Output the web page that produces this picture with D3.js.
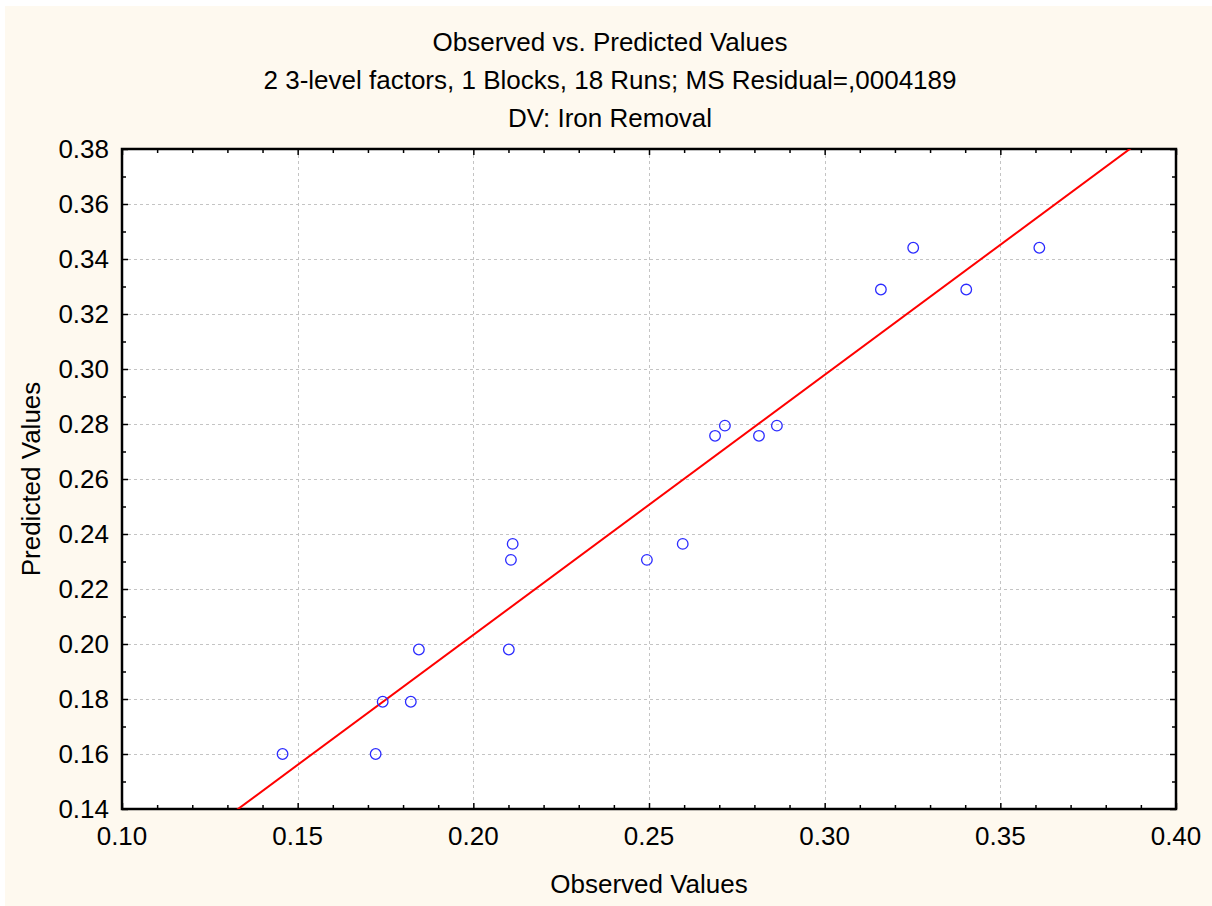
<!DOCTYPE html>
<html>
<head>
<meta charset="utf-8">
<script src="https://cdn.jsdelivr.net/npm/d3@7"></script>
<style>
  body { margin: 0; background: #ffffff; }
  text { font-family: "Liberation Sans", Arial, sans-serif; fill: #000; }
</style>
</head>
<body>
<script>
// chart size
var w = 1212;
var h = 906;

// plot area
const margin = {top: 149, bottom: 97, right: 36, left: 122};
const fontSize = "26px";

// titles
var titleLines = ["Observed vs. Predicted Values",
                  "2 3-level factors, 1 Blocks, 18 Runs; MS Residual=,0004189",
                  "DV: Iron Removal"];

var observed = [0.1457, 0.1722, 0.1742, 0.1822, 0.1845, 0.2101, 0.2107, 0.2112, 0.2494,
                0.2596, 0.2688, 0.2716, 0.2813, 0.2864, 0.3160, 0.3252, 0.3403, 0.3611];
var predicted = [0.1600, 0.1600, 0.1790, 0.1790, 0.1980, 0.1980, 0.2306, 0.2364, 0.2306,
                 0.2364, 0.2757, 0.2794, 0.2757, 0.2794, 0.3289, 0.3441, 0.3289, 0.3441];

// tick values
var xTicks = [0.10, 0.15, 0.20, 0.25, 0.30, 0.35, 0.40];
var yTicks = [0.14, 0.16, 0.18, 0.20, 0.22, 0.24, 0.26, 0.28, 0.30, 0.32, 0.34, 0.36, 0.38];
var xMinor = d3.range(0.10, 0.4001, 0.01);
var yMinor = d3.range(0.14, 0.3801, 0.01);

var svg = d3.select("body")
            .append("svg")
            .attr("width", w)
            .attr("height", h);

// cream background panel
svg.append("rect")
   .attr("x", 5)
   .attr("y", 6)
   .attr("width", w - 5)
   .attr("height", h - 6)
   .attr("fill", "#fef9ef");

var xScale = d3.scaleLinear()
               .domain([0.10, 0.40])
               .range([margin.left, w - margin.right]);

var yScale = d3.scaleLinear()
                .domain([0.14, 0.38])
                .range([h - margin.bottom, margin.top]);

// white plot area
svg.append("rect")
   .attr("x", margin.left)
   .attr("y", margin.top)
   .attr("width", w - margin.left - margin.right)
   .attr("height", h - margin.top - margin.bottom)
   .attr("fill", "#ffffff");

// grid lines
var grid = svg.append("g")
              .attr("stroke", "#c4c4c4")
              .attr("stroke-width", 1)
              .attr("stroke-dasharray", "3,3");

grid.selectAll(".vgrid")
    .data(xTicks.slice(1, -1))
    .enter()
    .append("line")
    .attr("x1", function(d) { return Math.round(xScale(d)) + 0.5; })
    .attr("x2", function(d) { return Math.round(xScale(d)) + 0.5; })
    .attr("y1", margin.top)
    .attr("y2", h - margin.bottom);

grid.selectAll(".hgrid")
    .data(yTicks.slice(1, -1))
    .enter()
    .append("line")
    .attr("y1", function(d) { return Math.round(yScale(d)) + 0.5; })
    .attr("y2", function(d) { return Math.round(yScale(d)) + 0.5; })
    .attr("x1", margin.left)
    .attr("x2", w - margin.right);

// axes with inward ticks on all four sides
function isMajor(v, list) {
  return list.some(function(t) { return Math.abs(t - v) < 1e-6; });
}

var xAxisBottom = d3.axisBottom(xScale)
                    .tickValues(xMinor)
                    .tickSizeOuter(0)
                    .tickFormat("");
var xAxisTop = d3.axisTop(xScale)
                 .tickValues(xMinor)
                 .tickSizeOuter(0)
                 .tickFormat("");
var yAxisLeft = d3.axisLeft(yScale)
                  .tickValues(yMinor)
                  .tickSizeOuter(0)
                  .tickFormat("");
var yAxisRight = d3.axisRight(yScale)
                   .tickValues(yMinor)
                   .tickSizeOuter(0)
                   .tickFormat("");

function styleTicks(g, list, sign, horizontal) {
  g.select(".domain").remove();
  g.selectAll(".tick line")
   .attr("stroke", "#000")
   .attr("stroke-width", 1.5)
   .each(function(d) {
     var len = isMajor(d, list) ? 6 : 4;
     if (horizontal) {
       d3.select(this).attr("x2", null).attr("y2", sign * len);
     } else {
       d3.select(this).attr("y2", null).attr("x2", sign * len);
     }
   });
}

svg.append("g")
   .attr("transform", "translate(0," + (h - margin.bottom) + ")")
   .call(xAxisBottom)
   .call(function(g) { styleTicks(g, xTicks, -1, true); });

svg.append("g")
   .attr("transform", "translate(0," + margin.top + ")")
   .call(xAxisTop)
   .call(function(g) { styleTicks(g, xTicks, 1, true); });

svg.append("g")
   .attr("transform", "translate(" + margin.left + ",0)")
   .call(yAxisLeft)
   .call(function(g) { styleTicks(g, yTicks, 1, false); });

svg.append("g")
   .attr("transform", "translate(" + (w - margin.right) + ",0)")
   .call(yAxisRight)
   .call(function(g) { styleTicks(g, yTicks, -1, false); });

// tick labels
svg.selectAll(".xlabel")
   .data(xTicks)
   .enter()
   .append("text")
   .attr("x", function(d) { return xScale(d); })
   .attr("y", h - margin.bottom + 36)
   .attr("text-anchor", "middle")
   .attr("font-size", fontSize)
   .text(function(d) { return d.toFixed(2); });

svg.selectAll(".ylabel")
   .data(yTicks)
   .enter()
   .append("text")
   .attr("x", margin.left - 13)
   .attr("y", function(d) { return yScale(d) + 9; })
   .attr("text-anchor", "end")
   .attr("font-size", fontSize)
   .text(function(d) { return d.toFixed(2); });

// frame
svg.append("rect")
   .attr("x", margin.left)
   .attr("y", margin.top)
   .attr("width", w - margin.left - margin.right)
   .attr("height", h - margin.top - margin.bottom)
   .attr("fill", "none")
   .attr("stroke", "#000")
   .attr("stroke-width", 2.5);

// least squares fit of predicted on observed
var n = observed.length;
var mx = d3.mean(observed);
var my = d3.mean(predicted);
var sxy = 0, sxx = 0;
for (var i = 0; i < n; i++) {
  sxy += (observed[i] - mx) * (predicted[i] - my);
  sxx += (observed[i] - mx) * (observed[i] - mx);
}
var slope = sxy / sxx;
var intercept = my - slope * mx;

// clip the fit line to the plot area
svg.append("clipPath")
   .attr("id", "plotClip")
   .append("rect")
   .attr("x", margin.left)
   .attr("y", margin.top)
   .attr("width", w - margin.left - margin.right)
   .attr("height", h - margin.top - margin.bottom);

svg.append("line")
   .attr("clip-path", "url(#plotClip)")
   .attr("x1", xScale(0.10))
   .attr("y1", yScale(intercept + slope * 0.10))
   .attr("x2", xScale(0.40))
   .attr("y2", yScale(intercept + slope * 0.40))
   .attr("stroke", "#ff0000")
   .attr("stroke-width", 2);

// points
svg.selectAll("circle")
   .data(observed)
   .enter()
   .append("circle")
   .attr("cx", function(d) { return xScale(d); })
   .attr("cy", function(d, i) { return yScale(predicted[i]); })
   .attr("r", 5.3)
   .attr("fill", "none")
   .attr("stroke", "#2b2bff")
   .attr("stroke-width", 1.3);

// titles
svg.selectAll(".title")
   .data(titleLines)
   .enter()
   .append("text")
   .attr("x", w / 2 + 4)
   .attr("y", function(d, i) { return 51 + i * 37.8; })
   .attr("text-anchor", "middle")
   .attr("font-size", fontSize)
   .text(function(d) { return d; });

// axis titles
svg.append("text")
   .attr("x", (margin.left + w - margin.right) / 2)
   .attr("y", 893)
   .attr("text-anchor", "middle")
   .attr("font-size", fontSize)
   .text("Observed Values");

svg.append("text")
   .attr("transform", "translate(40," + ((margin.top + h - margin.bottom) / 2) + ") rotate(-90)")
   .attr("text-anchor", "middle")
   .attr("font-size", fontSize)
   .text("Predicted Values");
</script>
</body>
</html>
